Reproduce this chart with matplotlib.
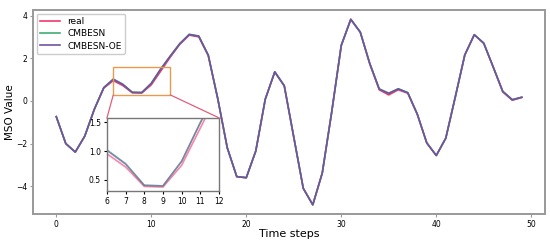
import matplotlib
matplotlib.use("Agg")
import matplotlib.pyplot as plt
from matplotlib.patches import Rectangle, ConnectionPatch

steps = list(range(50))
real = [-0.74, -2.0, -2.4, -1.65, -0.4, 0.6, 0.95, 0.72, 0.38, 0.37,
        0.75, 1.4, 2.05, 2.65, 3.08, 3.0, 2.12, 0.1, -2.2, -3.55,
        -3.6, -2.35, 0.08, 1.35, 0.7, -1.7, -4.1, -4.87, -3.38, -0.5,
        2.6, 3.82, 3.22, 1.73, 0.52, 0.28, 0.52, 0.36, -0.63, -1.97,
        -2.56, -1.75, 0.18, 2.15, 3.1, 2.7, 1.57, 0.42, 0.03, 0.16]
cmbesn = [-0.74, -2.0, -2.4, -1.65, -0.4, 0.62, 1.02, 0.78, 0.40, 0.39,
          0.82, 1.5, 2.1, 2.68, 3.12, 3.04, 2.14, 0.1, -2.2, -3.55,
          -3.6, -2.35, 0.08, 1.36, 0.71, -1.7, -4.1, -4.87, -3.38, -0.5,
          2.6, 3.82, 3.22, 1.75, 0.56, 0.36, 0.57, 0.39, -0.62, -1.97,
          -2.56, -1.75, 0.18, 2.15, 3.1, 2.7, 1.58, 0.45, 0.06, 0.17]
cmbesn_oe = [-0.74, -2.0, -2.4, -1.65, -0.4, 0.62, 1.01, 0.77, 0.40, 0.39,
             0.82, 1.49, 2.1, 2.68, 3.11, 3.03, 2.14, 0.1, -2.2, -3.55,
             -3.6, -2.35, 0.08, 1.36, 0.71, -1.7, -4.1, -4.87, -3.38, -0.5,
             2.6, 3.82, 3.22, 1.75, 0.55, 0.35, 0.56, 0.38, -0.62, -1.97,
             -2.56, -1.75, 0.18, 2.15, 3.1, 2.7, 1.58, 0.44, 0.05, 0.17]

zoom_x = (6, 12)
zoom_y = (0.28, 1.57)

c_real = "#f2386e"
c_esn = "#3fae74"
c_oe = "#6f54a0"
c_spine = "#999999"

fig = plt.figure(figsize=(5.5, 2.4), dpi=100)
ax = fig.add_axes([0.06, 0.108, 0.931, 0.85])
ax.plot(steps, real, color=c_real, lw=1.2, label="real")
ax.plot(steps, cmbesn, color=c_esn, lw=1.2, label="CMBESN")
ax.plot(steps, cmbesn_oe, color=c_oe, lw=1.2, label="CMBESN-OE")
ax.set_xlabel("Time steps", fontsize=8, labelpad=0)
ax.set_ylabel("MSO Value", fontsize=7.5, labelpad=1)
ax.set_yticks([-4, -2, 0, 2, 4])
ax.tick_params(labelsize=5.5, length=2.5, pad=1.5, color=c_spine)
for s in ax.spines.values():
    s.set_color(c_spine)
    s.set_linewidth(1.4)
ax.legend(loc="upper left", fontsize=6.5, framealpha=1, borderaxespad=0.4,
          handlelength=2.2, labelspacing=0.35)

# zoom box
ax.add_patch(Rectangle((zoom_x[0], zoom_y[0]), zoom_x[1] - zoom_x[0],
                       zoom_y[1] - zoom_y[0], fill=False,
                       edgecolor="#e89a4e", lw=1.0, zorder=5))

axins = fig.add_axes([0.1945, 0.204, 0.2036, 0.305])
axins.plot(steps, real, color=c_real, lw=1.2, alpha=0.6)
axins.plot(steps, cmbesn, color=c_esn, lw=1.2, alpha=0.6)
axins.plot(steps, cmbesn_oe, color=c_oe, lw=1.2, alpha=0.6)
axins.set_xlim(*zoom_x)
axins.set_ylim(0.3, 1.58)
axins.set_xticks(range(6, 13))
axins.set_yticks([0.5, 1.0, 1.5])
axins.tick_params(labelsize=5.5, length=2.5, pad=2)
for s in axins.spines.values():
    s.set_color("#777777")
    s.set_linewidth(1.0)

for xa in zoom_x:
    con = ConnectionPatch(xyA=(xa, zoom_y[0]), coordsA=ax.transData,
                          xyB=(xa, 1.58), coordsB=axins.transData,
                          color="#e0607a", lw=0.9)
    fig.add_artist(con)

fig.savefig("out.png", dpi=100)
